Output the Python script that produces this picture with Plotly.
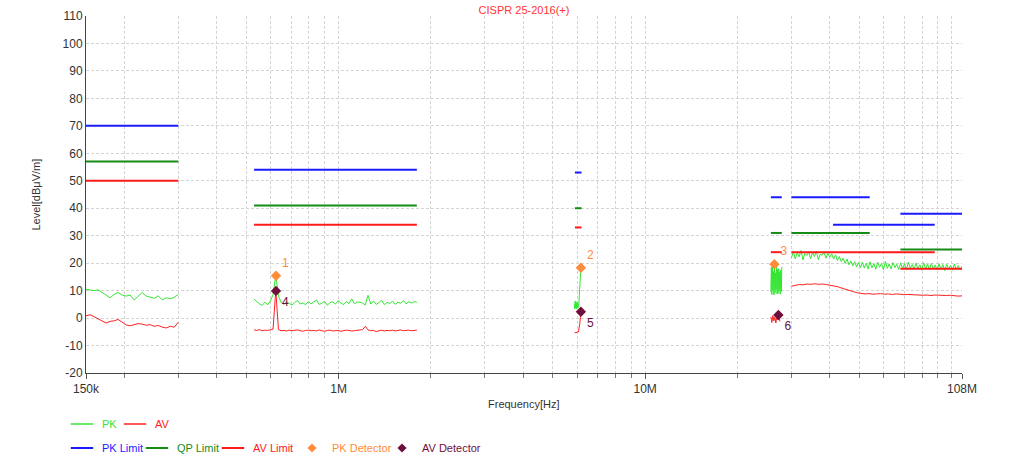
import numpy as np
import plotly.graph_objects as go

# ---------------- data ----------------
# sweep bands (start, stop in Hz)
band_start = [150e3, 530e3, 25.7e6, 30e6]
band_stop = [300e3, 1.8e6, 27.9e6, 108e6]

pk_band1 = [10.5, 10.2, 10.0, 10.3, 9.2, 8.4, 7.4, 8.6, 9.3, 8.4, 8.0, 8.4, 6.6, 7.8,
            9.3, 8.0, 7.6, 7.2, 8.1, 6.6, 7.4, 7.0, 7.6, 8.6]
av_band1 = [0.8, 1.2, 0.5, -0.3, -0.8, -1.8, -1.2, -1.0, -0.5, -1.5, -2.5, -2.8, -2.3, -2.0,
            -2.2, -2.6, -2.4, -3.0, -2.7, -3.3, -3.6, -3.0, -3.3, -1.5]

pk_band2 = [6.9, 6.0, 5.2, 4.6, 5.8, 4.8, 6.2, 8.5, 15.5, 8.0,
            5.6, 5.0, 5.9, 5.3, 4.8, 5.7, 6.4, 5.1, 5.5, 4.9,
            6.0, 5.2, 5.8, 6.6, 5.0, 5.4, 6.1, 4.7, 5.6, 5.9,
            5.1, 6.3, 5.5, 4.9, 6.0, 5.3, 7.0, 5.2, 5.8, 5.8,
            5.4, 4.8, 8.3, 5.1, 6.2, 5.0, 5.6, 6.5, 4.9, 5.7,
            5.3, 6.1, 5.0, 5.8, 5.4, 6.4, 5.2, 5.9, 5.5, 6.0, 5.7]
av_band2 = [-4.3, -4.5, -4.2, -4.6, -4.4, -4.5, -4.3, -4.0, 10.0, -4.2,
            -4.6, -4.5, -4.7, -4.4, -4.6, -4.5, -4.3, -4.6, -4.8, -4.5,
            -4.4, -4.6, -4.5, -4.7, -4.3, -4.6, -4.8, -4.5, -4.4, -4.7,
            -4.6, -4.5, -4.8, -4.6, -4.4, -4.5, -4.7, -4.6, -4.5, -4.4,
            -4.2, -3.0, -4.3, -4.6, -4.5, -4.9, -4.6, -4.4, -4.7, -4.5,
            -4.6, -4.4, -4.7, -4.5, -4.3, -4.6, -4.5, -4.4, -4.6, -4.5, -4.4]

pk_band3_freq = [5.87e6, 5.89e6, 5.91e6, 5.93e6, 5.95e6, 5.97e6, 5.99e6, 6.01e6,
                 6.03e6, 6.05e6, 6.07e6, 6.17e6]
pk_band3 = [5.0, 3.4, 6.2, 3.6, 5.6, 3.3, 5.9, 4.0, 5.2, 3.8, 4.2, 18.3]
av_band3_freq = [5.88e6, 5.98e6, 6.06e6, 6.12e6, 6.17e6]
av_band3 = [-5.4, -5.3, -5.0, -2.0, 2.3]

pk_band4 = [9.5, 18.5, 8.6, 19.0, 10.2, 17.0, 8.4, 18.8, 9.2, 16.5, 10.5,
            19.2, 8.8, 17.8, 9.0, 18.0, 10.0, 16.8, 8.7, 17.5, 9.6, 18.6]
av_band4_stop = 27.5e6
av_band4 = [0.4, -1.6, 0.9, -1.0, 0.3, -1.8, 1.0, -0.6, 0.8, -1.2]

pk_band5 = [22.0, 24.2, 21.5, 23.8, 22.3, 24.6, 21.2, 23.5, 22.8, 24.1, 21.6,
            23.9, 22.4, 24.4, 21.3, 23.2, 22.9, 24.0, 21.8, 23.6, 22.2, 23.4,
            21.5, 23.0, 21.0, 22.4, 20.6, 21.8, 19.9, 21.5, 19.4, 20.8, 19.0,
            20.5, 18.6, 20.2, 18.4,
            20.4, 18.2, 20.0, 17.9, 20.5, 18.3, 19.8, 17.8, 20.3, 18.5,
            19.9, 17.6, 20.6, 18.1, 19.7, 17.9, 20.2, 18.4, 19.6, 17.7,
            20.1, 18.0, 19.8, 17.5, 20.4, 18.2, 19.5, 17.8, 20.0, 18.1,
            19.4, 17.4, 20.2, 17.9, 19.7, 17.6, 19.9, 18.0, 19.3, 17.5,
            19.8, 17.7, 19.5, 17.3, 19.6, 17.8, 19.2, 17.4, 19.7, 17.6,
            19.1, 17.5, 18.8]
av_band5 = [11.6, 12.0, 12.2, 12.1, 12.4, 12.3, 12.5, 12.3, 12.4, 12.2,
            12.0, 11.8, 11.4, 10.9, 10.4, 10.0, 9.6, 9.2, 9.0, 8.8,
            8.9, 8.7, 8.8, 8.9, 8.7, 8.8, 8.6, 8.8, 8.7, 8.5,
            8.6, 8.5, 8.4, 8.5, 8.3, 8.4, 8.2, 8.4, 8.3, 8.1,
            8.2, 8.3, 8.1, 8.0, 8.1]

# limits
pk_limit_start = [150e3, 530e3, 5.9e6, 25.7e6, 30e6, 41e6, 68e6]
pk_limit_stop = [300e3, 1.8e6, 6.2e6, 27.9e6, 54e6, 88e6, 108e6]
pk_limit_level = [70, 54, 53, 44, 44, 34, 38]
qp_limit_start = [150e3, 530e3, 5.9e6, 25.7e6, 30e6, 68e6]
qp_limit_stop = [300e3, 1.8e6, 6.2e6, 27.9e6, 54e6, 108e6]
qp_limit_level = [57, 41, 40, 31, 31, 25]
av_limit_start = [150e3, 530e3, 5.9e6, 25.7e6, 30e6, 68e6]
av_limit_stop = [300e3, 1.8e6, 6.2e6, 27.9e6, 88e6, 108e6]
av_limit_level = [50, 34, 33, 24, 24, 18]

# detectors
pk_det_freq = [0.625e6, 6.17e6, 26.4e6]
pk_det_level = [15.4, 18.3, 19.6]
pk_det_label = ["1", "2", "3"]
av_det_freq = [0.625e6, 6.17e6, 27.2e6]
av_det_level = [9.9, 2.3, 1.1]
av_det_label = ["4", "5", "6"]

x_tick_vals = [150e3, 1e6, 10e6, 108e6]
x_tick_text = ["150k", "1M", "10M", "108M"]
x_minor_vals = [2e5, 3e5, 4e5, 5e5, 6e5, 7e5, 8e5, 9e5,
                2e6, 3e6, 4e6, 5e6, 6e6, 7e6, 8e6, 9e6,
                2e7, 3e7, 4e7, 5e7, 6e7, 7e7, 8e7, 9e7, 1e8]
y_tick_vals = [-20, -10, 0, 10, 20, 30, 40, 50, 60, 70, 80, 90, 100, 110]
y_tick_text = ["-20", "-10", "0", "10", "20", "30", "40", "50", "60", "70", "80",
               "90", "100", "110"]

# ---------------- build ----------------
C_PK = "#33e633"
C_AV = "#ff2020"
C_PKL = "#1a1aff"
C_QPL = "#158c15"
C_AVL = "#ff1a1a"
C_PKD = "#ff8c3a"
C_AVD = "#6e0f3c"

W, H = 1024, 461
PL, PR, PT, PB = 86, 962, 16, 373   # plot area in pixels
PW, PH = PR - PL, PB - PT


def sweep(values, start, stop):
    return list(np.geomspace(start, stop, len(values)))


def join(parts):
    xs, ys = [], []
    for i, (x, y) in enumerate(parts):
        if i:
            xs.append(None)
            ys.append(None)
        xs += list(x)
        ys += list(y)
    return xs, ys


pk_x, pk_y = join([
    (sweep(pk_band1, band_start[0], band_stop[0]), pk_band1),
    (sweep(pk_band2, band_start[1], band_stop[1]), pk_band2),
    (pk_band3_freq, pk_band3),
    (sweep(pk_band4, band_start[2], band_stop[2]), pk_band4),
    (sweep(pk_band5, band_start[3], band_stop[3]), pk_band5),
])
av_x, av_y = join([
    (sweep(av_band1, band_start[0], band_stop[0]), av_band1),
    (sweep(av_band2, band_start[1], band_stop[1]), av_band2),
    (av_band3_freq, av_band3),
    (sweep(av_band4, band_start[2], av_band4_stop), av_band4),
    (sweep(av_band5, band_start[3], band_stop[3]), av_band5),
])


def limit_xy(starts, stops, levels):
    return join([([a, b], [l, l]) for a, b, l in zip(starts, stops, levels)])


FONT = "Liberation Sans, Arial, sans-serif"


def lbl(text, color):
    return f"<span style='color:{color}'>{text}</span>"


def px2x(px):
    return (px - PL) / PW


def px2y(py):
    return (PB - py) / PH


fig = go.Figure()
# data traces (legend shown via compact legend-only entries below)
fig.add_trace(go.Scatter(x=pk_x, y=pk_y, mode="lines", showlegend=False,
                         line=dict(color=C_PK, width=1)))
fig.add_trace(go.Scatter(x=av_x, y=av_y, mode="lines", showlegend=False,
                         line=dict(color=C_AV, width=1)))
limit_traces = [
    (pk_limit_start, pk_limit_stop, pk_limit_level, C_PKL),
    (qp_limit_start, qp_limit_stop, qp_limit_level, C_QPL),
    (av_limit_start, av_limit_stop, av_limit_level, C_AVL),
]
for starts, stops, levels, c in limit_traces:
    lx, ly = limit_xy(starts, stops, levels)
    fig.add_trace(go.Scatter(x=lx, y=ly, mode="lines", showlegend=False,
                             line=dict(color=c, width=2)))
fig.add_trace(go.Scatter(x=pk_det_freq, y=pk_det_level, mode="markers+text",
                         showlegend=False, text=pk_det_label,
                         textposition="top right",
                         textfont=dict(color=C_PKD, size=12, family=FONT),
                         marker=dict(symbol="diamond", size=8, color=C_PKD)))
fig.add_trace(go.Scatter(x=av_det_freq, y=av_det_level, mode="markers+text",
                         showlegend=False, text=av_det_label,
                         textposition="bottom right",
                         textfont=dict(color=C_AVD, size=12, family=FONT),
                         marker=dict(symbol="diamond", size=8, color=C_AVD)))

# legend entries: (name, colour, kind, legend id, text-left px, row-centre px)
legend_items = [
    ("PK", C_PK, "line1", "legend", 103, 424),
    ("AV", C_AV, "line1", "legend2", 156, 424),
    ("PK Limit", C_PKL, "line2", "legend3", 103, 448),
    ("QP Limit", C_QPL, "line2", "legend4", 178, 448),
    ("AV Limit", C_AVL, "line2", "legend5", 254, 448),
    ("PK Detector", C_PKD, "dot", "legend6", 333, 448),
    ("AV Detector", C_AVD, "dot", "legend7", 423, 448),
]
TEXT_OFFSET = 41
legends = {}
for name, c, kind, lg, tx, ty in legend_items:
    if kind == "dot":
        mk = dict(symbol="diamond", size=7, color=c)
    else:
        mk = dict(symbol="line-ew", size=16, color=c,
                  line=dict(color=c, width=1.5 if kind == "line1" else 2))
    fig.add_trace(go.Scatter(x=[None], y=[None], mode="markers", name=lbl(name, c),
                             marker=mk, legend=lg, hoverinfo="skip"))
    legends[lg] = dict(orientation="h", x=px2x(tx - TEXT_OFFSET), xanchor="left",
                       y=px2y(ty), yanchor="middle", itemsizing="trace",
                       font=dict(size=11, family=FONT),
                       bgcolor="rgba(0,0,0,0)")

grid = dict(showgrid=True, gridcolor="#d4d4d4", griddash="3px,2px", gridwidth=1)

fig.update_layout(
    width=W, height=H,
    margin=dict(l=PL, r=W - PR, t=PT, b=H - PB, autoexpand=False),
    paper_bgcolor="white", plot_bgcolor="white",
    font=dict(family=FONT, size=11, color="#333333"),
    showlegend=True,
    title=dict(text="CISPR 25-2016(+)", x=0.5, xref="paper", y=1 - 10 / H,
               yref="container", yanchor="middle", xanchor="center",
               font=dict(color="#ff3333", size=11, family=FONT)),
    xaxis=dict(type="log", range=[np.log10(150e3), np.log10(108e6)],
               tickmode="array", tickvals=x_tick_vals, ticktext=x_tick_text,
               ticks="outside", ticklen=5, tickcolor="#555555",
               showline=True, linecolor="#444444", linewidth=1,
               tickfont=dict(size=12, color="#333333"),
               zeroline=False,
               minor=dict(tickmode="array", tickvals=x_minor_vals, ticks="outside",
                          ticklen=4, tickcolor="#777777", showgrid=True,
                          gridcolor="#d4d4d4", griddash="3px,2px"),
               **grid),
    yaxis=dict(range=[-20, 110], tickmode="array", tickvals=y_tick_vals,
               ticktext=y_tick_text, ticks="",
               showline=True, linecolor="#444444", linewidth=1,
               tickfont=dict(size=12, color="#333333"), zeroline=False,
               **grid),
    annotations=[
        dict(text="Frequency[Hz]", x=0.5, xref="paper", y=px2y(404),
             yref="paper", yanchor="middle", showarrow=False,
             font=dict(size=11, color="#333333")),
        dict(text="Level[dBμV/m]", x=px2x(35), xref="paper", y=0.5,
             yref="paper", textangle=-90, showarrow=False, xanchor="center",
             font=dict(size=11, color="#333333")),
    ],
    **legends,
)

fig.write_html("out.html", config={"displayModeBar": False},
               post_script="document.body.style.margin='0px';"
                           "document.body.style.overflow='hidden';")
